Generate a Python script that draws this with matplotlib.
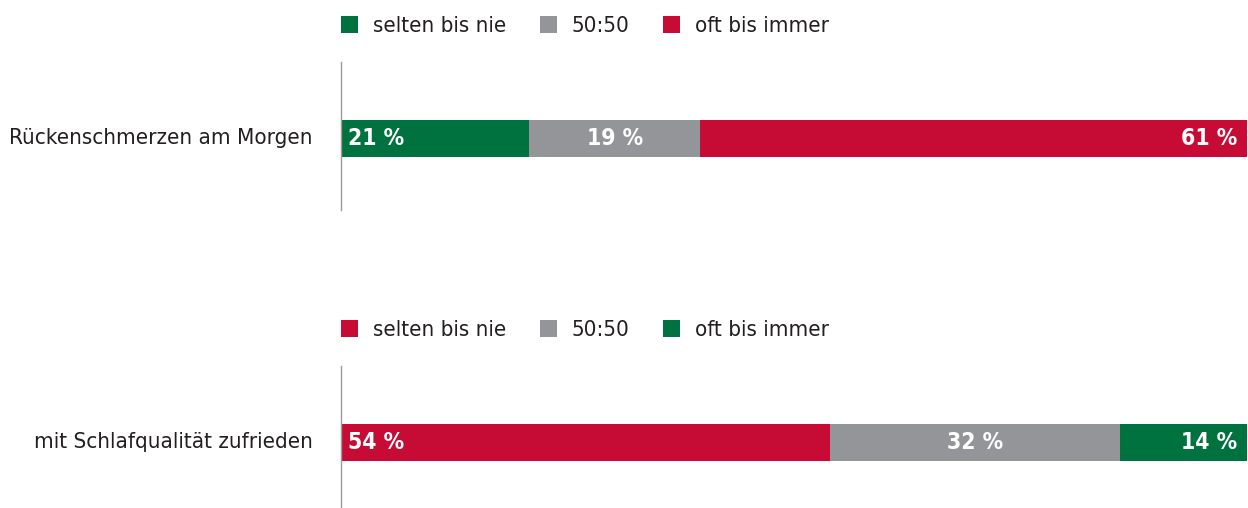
import matplotlib
matplotlib.use("Agg")
import matplotlib.pyplot as plt
from matplotlib.patches import Patch

plt.rcParams['font.family'] = ['DejaVu Sans']
plt.rcParams['font.stretch'] = 'condensed'

# data
questions = ['Rückenschmerzen am Morgen', 'mit Schlafqualität zufrieden']
answer_labels = ['selten bis nie', '50:50', 'oft bis immer']
values_top = [21, 19, 61]
values_bottom = [54, 32, 14]

green = '#00723F'
grey = '#949599'
red = '#C60C35'
colors_top = [green, grey, red]
colors_bottom = [red, grey, green]
text_col = '#231F20'

W, H = 1248, 508
fig = plt.figure(figsize=(W / 100, H / 100), dpi=100)


def panel(rect_px, question, values, colors, bar_px):
    # rect_px: (left, top, right, bottom) in pixels from top-left
    l, t, r, b = rect_px
    ax = fig.add_axes([l / W, 1 - b / H, (r - l) / W, (b - t) / H])
    total = sum(values)
    ax.set_xlim(0, total)
    ax.set_ylim(b, t)  # pixel-like coordinates, inverted
    y0, y1 = bar_px
    yc = (y0 + y1) / 2
    left = 0
    for i, (v, c) in enumerate(zip(values, colors)):
        ax.barh(yc, v, left=left, height=y1 - y0, color=c, edgecolor='none')
        lab = f'{v} %'
        kw = dict(va='center', color='white', fontsize=16.5, fontweight='bold')
        if i == 0:
            ax.text(left + total * 0.0075, yc, lab, ha='left', **kw)
        elif i == len(values) - 1:
            ax.text(left + v - total * 0.011, yc, lab, ha='right', **kw)
        else:
            ax.text(left + v / 2, yc, lab, ha='center', **kw)
        left += v
    for s in ['top', 'right', 'bottom']:
        ax.spines[s].set_visible(False)
    ax.spines['left'].set_color('#9a9a9a')
    ax.spines['left'].set_linewidth(1.0)
    ax.set_xticks([])
    ax.set_yticks([])
    ax.text(-total * 0.031, yc, question, ha='right', va='center',
            color=text_col, fontsize=16)
    handles = [Patch(facecolor=c, edgecolor='none', label=a)
               for c, a in zip(colors, answer_labels)]
    leg_y = 1 + 36 / (b - t)
    ax.legend(handles=handles, ncol=3, loc='center left', bbox_to_anchor=(0, leg_y),
              frameon=False, borderpad=0, borderaxespad=0, fontsize=16,
              handlelength=0.77, handleheight=0.77, handletextpad=0.68,
              columnspacing=1.49, labelcolor=text_col)
    return ax


panel((341, 62, 1247, 210), questions[0], values_top, colors_top, (120, 157))
panel((341, 366, 1247, 508), questions[1], values_bottom, colors_bottom, (424, 461))

fig.savefig('out.png', dpi=100)
